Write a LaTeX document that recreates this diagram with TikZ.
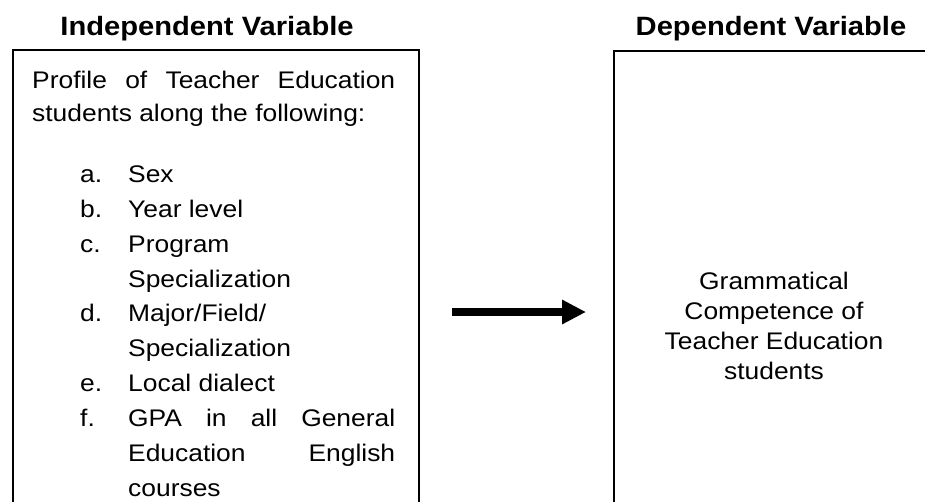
\documentclass[tikz,border=0pt]{standalone}
\usepackage{fontspec}
\setmainfont[FakeStretch=1.1]{Liberation Sans}
\usetikzlibrary{arrows.meta}
\tikzset{
  ln/.style={anchor=base west, inner sep=0pt, font=\fontsize{24}{28}\selectfont},
  ctr/.style={anchor=base, inner sep=0pt, font=\fontsize{24}{28}\selectfont},
  ttl/.style={anchor=base, inner sep=0pt, font=\fontsize{26.5}{30}\selectfont\bfseries},
  frame/.style={draw=black, line width=2pt, anchor=north west, inner sep=0pt},
  bigarrow/.style={line width=8.5pt, -{Triangle[length=24pt,width=23pt]}}
}
\begin{document}
\begin{tikzpicture}[x=1pt,y=-1pt]
\useasboundingbox (0,0) rectangle (925,501);
\clip (0,0) rectangle (925,501);
\fill[white] (0,0) rectangle (925,501);
% boxes
\node[frame, minimum width=406pt, minimum height=600pt] (ivbox) at (12,49) {};
\node[frame, minimum width=400pt, minimum height=600pt] (dvbox) at (613,50) {};
% titles
\node[ttl] (ivtitle) at (207,35) {Independent Variable};
\node[ttl] (dvtitle) at (771,35) {Dependent Variable};
% left text
\node[ln] (p1) at (32,88) {\hbox to 363pt{Profile\hfill of\hfill Teacher\hfill Education}};
\node[ln] (p2) at (32,121) {students along the following:};
\node[ln] (la) at (80,182) {a.};
\node[ln] (ta) at (128,182) {Sex};
\node[ln] (lb) at (80,217) {b.};
\node[ln] (tb) at (128,217) {Year level};
\node[ln] (lc) at (80,252) {c.};
\node[ln] (tc) at (128,252) {Program};
\node[ln] (tc2) at (128,287) {Specialization};
\node[ln] (ld) at (80,321) {d.};
\node[ln] (td) at (128,321) {Major/Field/};
\node[ln] (td2) at (128,356) {Specialization};
\node[ln] (le) at (80,391) {e.};
\node[ln] (te) at (128,391) {Local dialect};
\node[ln] (lf) at (80,426) {f.};
\node[ln] (tf) at (128,426) {\hbox to 267pt{GPA\hfill in\hfill all\hfill General}};
\node[ln] (tf2) at (128,461) {\hbox to 267pt{Education\hfill English}};
\node[ln] (tf3) at (128,496) {courses};
% right text
\node[ctr] (r1) at (774,289) {Grammatical};
\node[ctr] (r2) at (774,319) {Competence of};
\node[ctr] (r3) at (774,349) {Teacher Education};
\node[ctr] (r4) at (774,379) {students};
% arrow
\coordinate (a1) at (452,312);
\coordinate (a2) at (586,312);
\draw[bigarrow] (a1) -- (a2);
\end{tikzpicture}
\end{document}
